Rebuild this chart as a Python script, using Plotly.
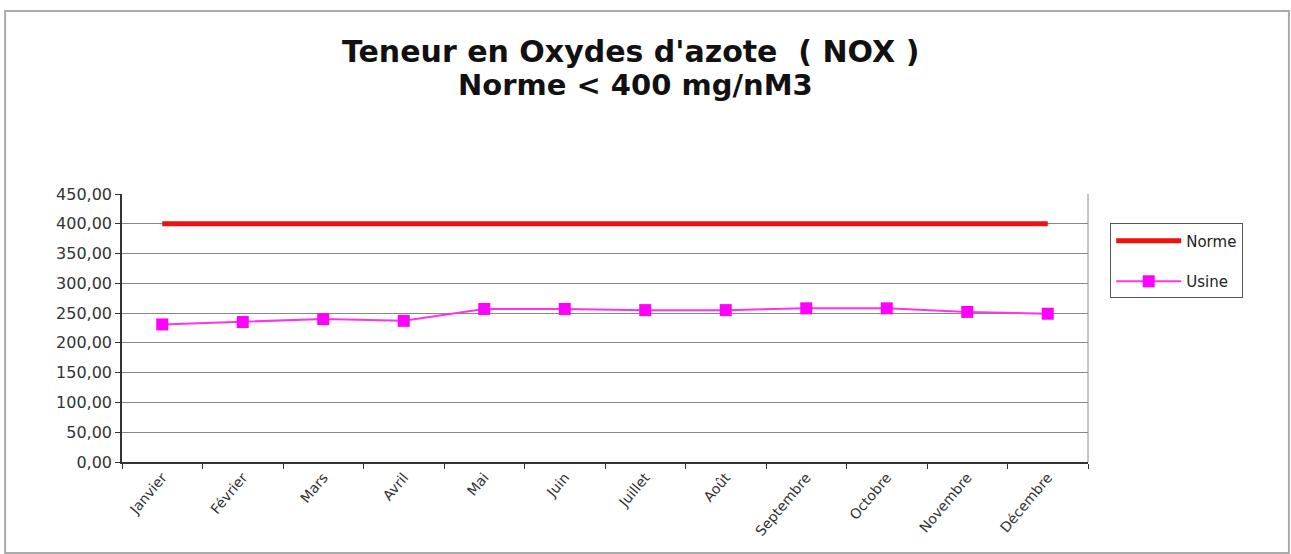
import plotly.graph_objects as go

# ====== DATA ======
mois = ["Janvier", "Février", "Mars", "Avril", "Mai", "Juin", "Juillet",
        "Août", "Septembre", "Octobre", "Novembre", "Décembre"]
norme = [400, 400, 400, 400, 400, 400, 400, 400, 400, 400, 400, 400]
usine = [231, 235, 240, 237, 257, 257, 255, 255, 258, 258, 252, 249]

titre = "Teneur en Oxydes d'azote  ( NOX )"
sous_titre = "Norme &lt; 400 mg/nM3"

# ====== CREATE PLOT ======
fig = go.Figure()

fig.add_trace(go.Scatter(
    x=mois, y=norme, mode="lines", name="Norme", legendgroup="a",
    line=dict(color="#ee1111", width=5)
))

fig.add_trace(go.Scatter(
    x=mois, y=usine, mode="lines+markers", name="Usine", legendgroup="b",
    line=dict(color="#ff33ee", width=2),
    marker=dict(symbol="square", size=12, color="#ff00ff")
))

# ====== LAYOUT ======
fig.update_layout(
    width=1291, height=554,
    paper_bgcolor="white", plot_bgcolor="white",
    margin=dict(l=122, r=203, t=194, b=92),
    font=dict(family="DejaVu Sans, Arial", size=14, color="#333"),
    separators=", ",
    showlegend=True,
    legend=dict(
        x=1.023, y=0.89, xanchor="left", yanchor="top",
        bordercolor="#555", borderwidth=1,
        font=dict(size=15, color="#222"),
        itemwidth=65,
        tracegroupgap=18,
    ),
)

fig.add_annotation(text="<b>" + titre + "</b>", xref="paper", yref="paper",
                   x=0.526, y=1.53, yanchor="middle", showarrow=False,
                   font=dict(size=30, color="#111"))
fig.add_annotation(text="<b>" + sous_titre + "</b>", xref="paper", yref="paper",
                   x=0.532, y=1.407, yanchor="middle", showarrow=False,
                   font=dict(size=29, color="#111"))

fig.update_xaxes(
    range=[-0.5, 11.5],
    showgrid=False, showline=True, linecolor="#333", linewidth=1.5,
    ticks="outside", ticklen=5, tickcolor="#333",
    tickson="boundaries", tickangle=-50,
    tickfont=dict(size=14)
)
fig.update_yaxes(
    range=[0, 450], dtick=50, tickformat=".2f",
    showgrid=True, gridcolor="#888", gridwidth=1,
    showline=True, linecolor="#333", linewidth=1.5,
    ticks="outside", ticklen=5, tickcolor="#333",
    zeroline=False, tickfont=dict(size=16)
)

# right border of plot area
fig.add_shape(type="line", xref="paper", yref="paper",
              x0=1, x1=1, y0=0, y1=1, line=dict(color="#888", width=1))

# outer chart frame
fig.add_shape(type="rect", xref="paper", yref="paper",
              x0=-0.121, x1=1.208, y0=-0.34, y1=1.683,
              line=dict(color="#aaa", width=2))

# drop the default 8px body margin so the figure fills the window
fig.write_html("out.html", config={"displayModeBar": False},
               post_script="document.body.style.margin='0px';")
